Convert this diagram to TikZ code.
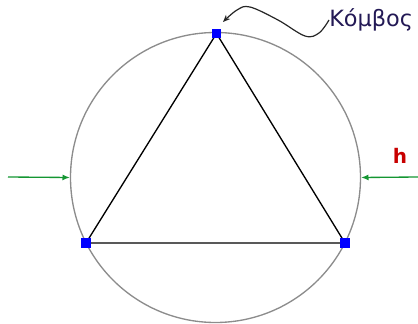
\documentclass[tikz,border=0pt]{standalone}
\usepackage{fontspec}
\setmainfont{DejaVu Sans}
\usetikzlibrary{arrows.meta}
\definecolor{circgray}{RGB}{140,140,140}
\definecolor{arrgreen}{RGB}{20,150,50}
\definecolor{hred}{RGB}{200,0,0}
\definecolor{lblcol}{RGB}{35,25,85}
\definecolor{vblue}{RGB}{0,0,255}
\tikzset{
  vtx/.style={rectangle, fill=vblue, minimum size=6.9pt, inner sep=0pt},
  ring/.style={circle, draw=circgray, line width=1pt, minimum size=217.5pt, inner sep=0pt},
  edge/.style={draw=black, line width=1pt},
  force/.style={draw=arrgreen, line width=1pt, -{Latex[length=5.5pt,width=4.5pt]}},
  pointer/.style={draw=black!85, line width=0.9pt, -{Stealth[length=5.5pt,width=4.5pt]}},
}
\begin{document}
\begin{tikzpicture}[x=0.75pt,y=-0.75pt]
\useasboundingbox (0,0) rectangle (418,324);
\node[ring] (circ) at (215.5,177.5) {};
\draw[edge] (216.5,33.5) -- (86,243) -- (345,243) -- cycle;
\node[vtx] (a) at (216.5,33.5) {};
\node[vtx] (b) at (86,243) {};
\node[vtx] (c) at (345,243) {};
\node[text=lblcol, font=\fontsize{16.8}{19}\selectfont, anchor=west, inner sep=0pt] (lbl) at (329,20) {Κόμβος};
\draw[pointer] plot[smooth, tension=0.6] coordinates {(lbl.west) (319,33) (305,36) (278,20) (250,7) (237,10) (223,22)};
\coordinate (l0) at (8,177);
\coordinate (r0) at (418,177);
\draw[force] (l0) -- (circ.west);
\draw[force] (r0) -- (circ.east);
\node[text=hred, font=\bfseries\fontsize{15}{17}\selectfont, inner sep=0pt] (h) at (400,155.5) {h};
\end{tikzpicture}
\end{document}
